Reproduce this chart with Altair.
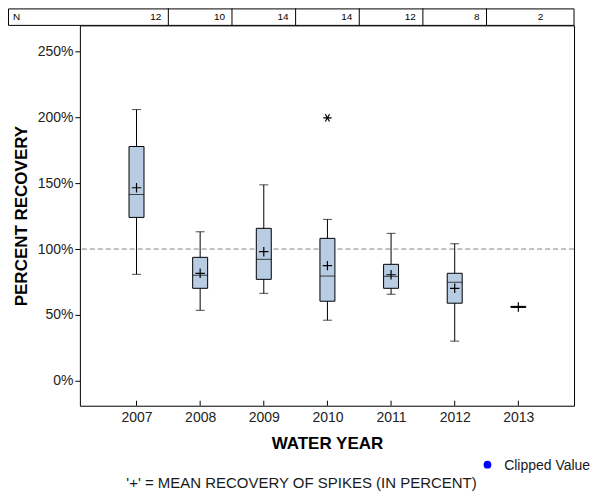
import altair as alt
import pandas as pd

# ---- data ----
years = [2007, 2008, 2009, 2010, 2011, 2012, 2013]
n_counts = [12, 10, 14, 14, 12, 8, 2]
whisker_low = [80.8, 53.5, 66.4, 46.0, 65.7, 30.1, 56.1]
q1 = [124.0, 70.2, 77.0, 60.4, 70.2, 58.9, 55.7]
median = [141.4, 80.1, 92.2, 79.5, 79.3, 74.8, 56.1]
q3 = [177.8, 93.7, 115.7, 108.1, 88.4, 81.6, 56.5]
whisker_high = [205.8, 113.1, 148.7, 122.5, 111.9, 104.0, 56.1]
means = [146.5, 81.6, 98.0, 87.4, 80.5, 70.2, 56.1]
outlier_years = [2010]
outlier_values = [199.5]
reference_value = [100]
y_ticks = [0, 50, 100, 150, 200, 250]

# ---- layout ----
X_MIN, X_MAX = 2006.11, 2013.875
Y_MIN, Y_MAX = -18.9, 269.7
W, H = 495, 381
FONT = "Liberation Sans"

df = pd.DataFrame({
    "year": years, "n": n_counts, "low": whisker_low, "q1": q1,
    "median": median, "q3": q3, "high": whisker_high, "mean": means,
})
df["n_pos"] = [min(y + 0.5, X_MAX) for y in years]
df["n_label"] = [str(v) for v in n_counts]
sep_df = pd.DataFrame({"sep": [y + 0.5 for y in years[:-1]]})
out_df = pd.DataFrame({"year": outlier_years, "value": outlier_values})
ref_df = pd.DataFrame({"ref": reference_value})
one = pd.DataFrame({"k": [0]})

x_scale = alt.Scale(domain=[X_MIN, X_MAX], nice=False, zero=False, padding=0)
y_scale = alt.Scale(domain=[Y_MIN, Y_MAX], nice=False, zero=False, padding=0)

x_axis = alt.Axis(values=years, format="d", title="WATER YEAR", ticks=False,
                  tickSize=0, domain=False, grid=False, labelPadding=5,
                  titlePadding=11)
y_axis = alt.Axis(values=y_ticks, labelExpr="datum.value + '%'",
                  title="PERCENT RECOVERY", domain=False, grid=False,
                  tickSize=5, tickColor="black", labelPadding=2, titlePadding=7)


def X(field):
    return alt.X(f"{field}:Q", scale=x_scale, axis=x_axis)


def Y(field):
    return alt.Y(f"{field}:Q", scale=y_scale, axis=y_axis)


base = alt.Chart(df)

ref_line = alt.Chart(ref_df).mark_rule(
    color="#808080", strokeDash=[5, 3], strokeWidth=1
).encode(y=Y("ref"))

whiskers = base.mark_rule(color="black", strokeWidth=1).encode(
    x=X("year"), y=Y("low"), y2="high"
)
caps_low = base.mark_tick(orient="horizontal", size=9, thickness=1,
                          color="black").encode(x=X("year"), y=Y("low"))
caps_high = base.mark_tick(orient="horizontal", size=9, thickness=1,
                           color="black").encode(x=X("year"), y=Y("high"))
boxes = base.mark_bar(size=15, fill="#B8CCE4", stroke="black",
                      strokeWidth=1).encode(x=X("year"), y=Y("q1"), y2="q3")
medians = base.mark_tick(orient="horizontal", size=15, thickness=1,
                         color="black").encode(x=X("year"), y=Y("median"))
mean_marks = base.mark_point(
    shape="M-1,0L1,0M0,-1L0,1", size=90, filled=False, stroke="black",
    strokeWidth=1.2, opacity=1
).encode(x=X("year"), y=Y("mean"))
outliers = alt.Chart(out_df).mark_point(
    shape="M-1,0L1,0M-0.5,-0.866L0.5,0.866M-0.5,0.866L0.5,-0.866",
    size=70, filled=False, stroke="black", strokeWidth=1.2, opacity=1
).encode(x=X("year"), y=Y("value"))

x_ticks = base.mark_rule(color="black", strokeWidth=1).encode(
    x=X("year"), y=alt.value(H - 5), y2=alt.value(H)
)

# ---- N table above the plot ----
table_frame = alt.Chart(one).mark_rect(
    fill="white", stroke="black", strokeWidth=1
).encode(x=alt.value(-71.5), x2=alt.value(W), y=alt.value(-16.5), y2=alt.value(0))
table_seps = alt.Chart(sep_df).mark_rule(color="black", strokeWidth=1).encode(
    x=X("sep"), y=alt.value(-17), y2=alt.value(0)
)
table_nums = base.mark_text(
    align="right", baseline="middle", dx=-7, fontSize=10, font=FONT, color="black"
).encode(x=X("n_pos"), y=alt.value(-8.5), text="n_label:N")
table_n = alt.Chart(one).mark_text(
    align="left", baseline="middle", fontSize=10, font=FONT, color="black",
    text="N"
).encode(x=alt.value(-67), y=alt.value(-8.5))

# ---- legend and footnote ----
legend_dot = alt.Chart(one).mark_point(
    shape="circle", size=60, filled=True, color="#0000FF", opacity=1
).encode(x=alt.value(408.3), y=alt.value(440))
legend_text = alt.Chart(one).mark_text(
    align="left", baseline="middle", fontSize=14, font=FONT, color="#1a1a1a",
    text="Clipped Value"
).encode(x=alt.value(425), y=alt.value(441))
footnote = alt.Chart(one).mark_text(
    align="center", baseline="middle", fontSize=15, font=FONT, color="#1a1a1a",
    text="'+' = MEAN RECOVERY OF SPIKES (IN PERCENT)"
).encode(x=alt.value(222), y=alt.value(458))

chart = alt.layer(
    ref_line, whiskers, caps_low, caps_high, boxes, medians, mean_marks,
    outliers, x_ticks, table_frame, table_seps, table_nums, table_n,
    legend_dot, legend_text, footnote
).properties(
    width=W, height=H,
    padding={"left": 72, "top": 17, "right": 18, "bottom": 86},
    autosize=alt.AutoSizeParams(type="none"),
).configure_view(
    stroke="black", strokeWidth=1
).configure_axis(
    labelFont=FONT, titleFont=FONT, labelFontSize=14, titleFontSize=17,
    titleFontWeight="bold", labelColor="#222222", titleColor="black",
)

chart.save("out.html", embed_options={"renderer": "svg", "actions": False})
